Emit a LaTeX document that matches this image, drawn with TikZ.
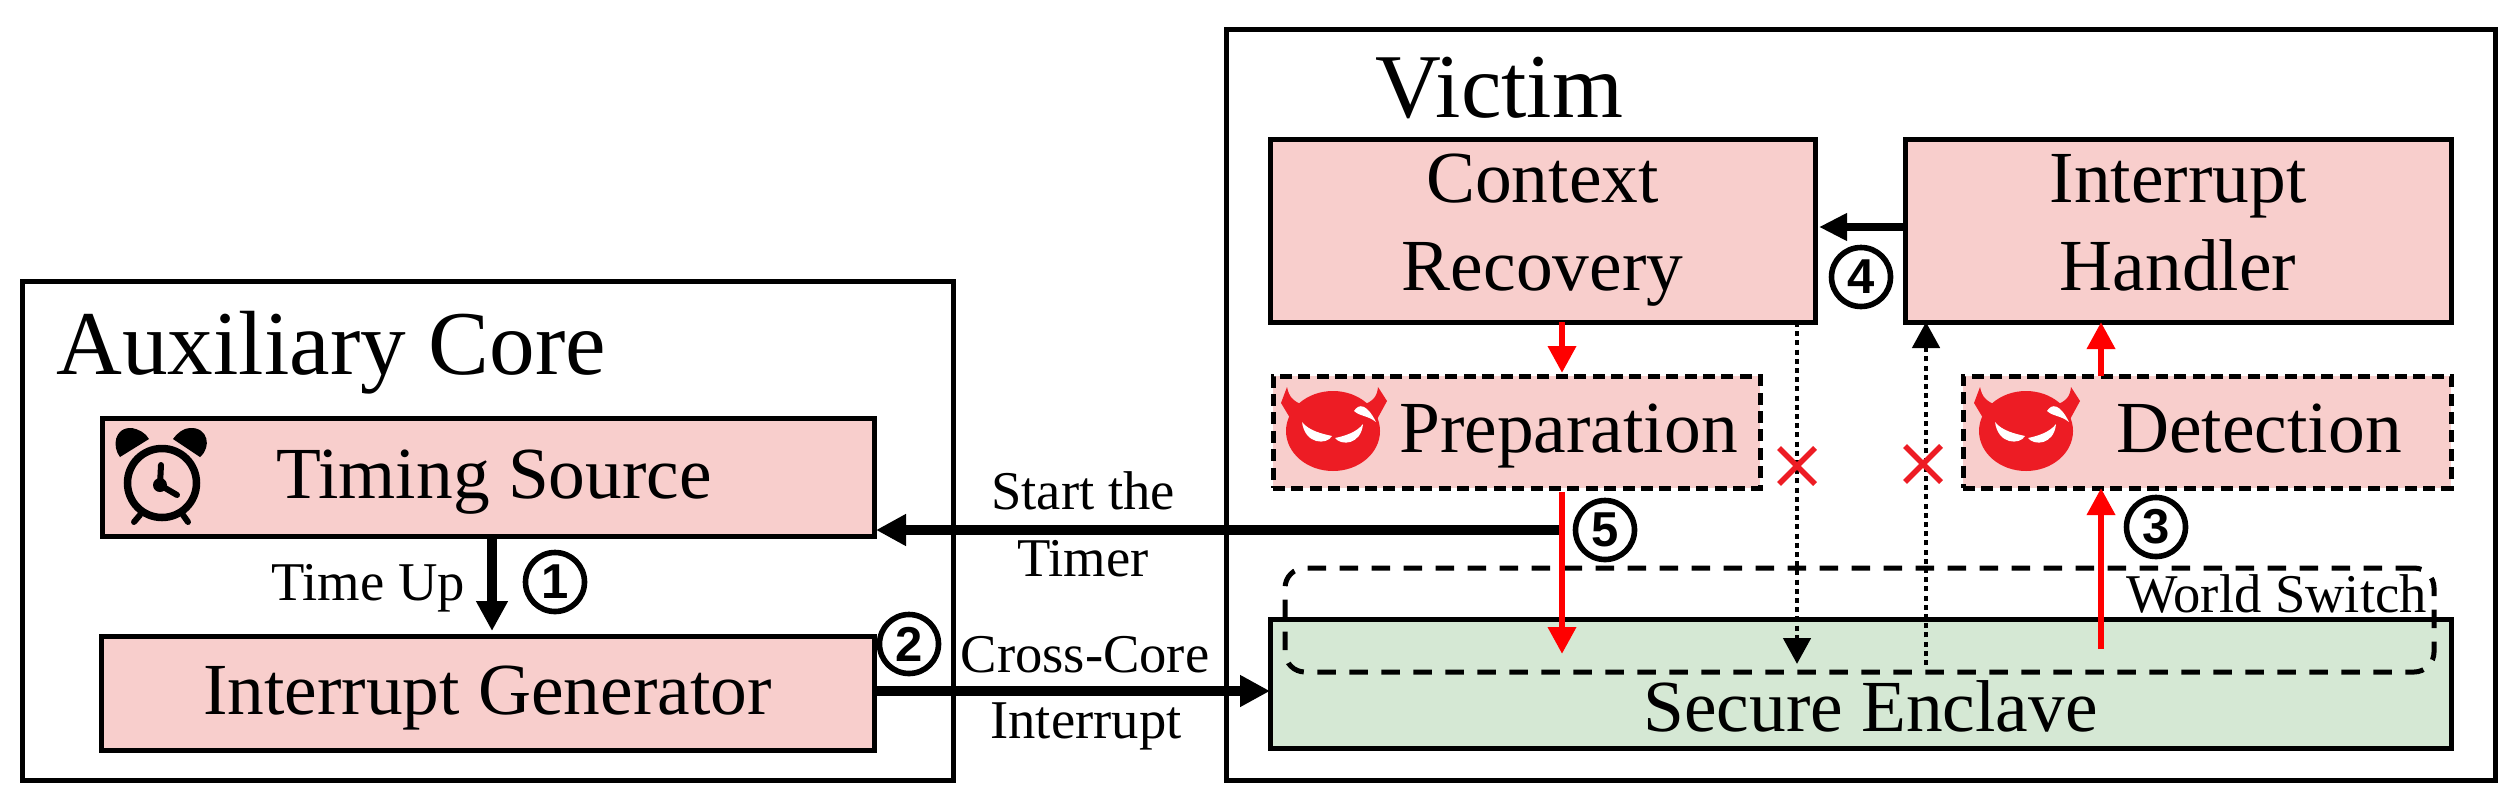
\documentclass[tikz,border=0pt]{standalone}
\usepackage{fontspec}
\setmainfont{Liberation Serif}
\setsansfont{Liberation Sans}
\usetikzlibrary{arrows.meta,calc}
\definecolor{pinkbox}{HTML}{F8CECC}
\definecolor{greenbox}{HTML}{D5E8D4}
\definecolor{devil}{HTML}{ED1C24}
\definecolor{redline}{HTML}{FF0000}
\newcommand{\fs}[1]{\fontsize{#1}{#1}\selectfont}
\tikzset{
  x=0.5pt,y=-0.5pt,
  frame/.style={draw=black,line width=2.5pt,fill=white,inner sep=0pt,outer sep=0pt},
  boxbase/.style={draw=black,line width=2.5pt,fill=pinkbox,inner sep=0pt,outer sep=0pt,font=\fs{36.7},align=center},
  evilbox/.style={boxbase,dash pattern=on 6pt off 3.2pt,line width=2.5pt,text height=29pt,text depth=9pt},
  bigtext/.style={font=\fs{45.6},anchor=base west,inner sep=0pt},
  smalltext/.style={font=\fs{27.3},anchor=base,inner sep=0pt,align=center},
  thickarrow/.style={line width=5pt,-{Triangle[length=15pt,width=15pt]}},
  midarrow/.style={line width=3.6pt,-{Triangle[length=14pt,width=13pt]}},
  redarrow/.style={draw=redline,line width=3.3pt,-{Triangle[length=13.5pt,width=13.5pt]}},
  dotarrow/.style={line width=2.4pt,dash pattern=on 2.5pt off 2.1pt,-{Triangle[length=13pt,width=13.5pt]}},
  stepmark/.style={circle,draw=black,line width=2.8pt,fill=white,minimum size=29.5pt,inner sep=0pt,font=\fs{24.5}\sffamily\bfseries},
  crossmark/.style={draw=devil,line width=2.7pt},
}
\newcommand{\devilicon}[2]{%
  \begin{scope}[shift={(#1,#2)}]
    \fill[devil] (-52,-28) -- (-46,-44) .. controls (-44,-34) and (-40,-30) .. (-30,-26) -- (-30,-5) -- (-40,-8) -- cycle;
    \fill[devil] (54,-30) -- (45,-44) .. controls (44,-34) and (40,-30) .. (30,-26) -- (30,-5) -- (42,-8) -- cycle;
    \fill[devil] (0,0) ellipse [x radius=23.5pt,y radius=20pt];
    \fill[white] (-31,-9) .. controls (-24,0) and (-10,3) .. (-1,5) .. controls (-6,14) and (-28,14) .. cycle;
    \fill[white] (30,-7) .. controls (24,1) and (12,5) .. (2,7) .. controls (8,15) and (28,14) .. cycle;
    \fill[white] (21,-20) .. controls (26,-28) and (34,-27) .. (43,-9) .. controls (34,-16) and (28,-14) .. cycle;
  \end{scope}}
\newcommand{\clockicon}[2]{%
  \begin{scope}[shift={(#1,#2)}]
    \draw[line width=3.75pt] (0,0) circle [radius=17.25pt];
    \draw[line width=3pt,line cap=round] (-1,-18) -- (-2,2) -- (15,12);
    \fill[black] (-2,2) circle [radius=3.5pt];
    \fill[black] (-42,-26) .. controls (-50,-36) and (-48,-56) .. (-30,-55) .. controls (-24,-54) and (-16,-50) .. (-13,-44) -- cycle;
    \fill[black] (11,-44) .. controls (15,-50) and (22,-55) .. (28,-55) .. controls (46,-56) and (50,-36) .. (38,-26) -- cycle;
    \draw[line width=3pt,line cap=round] (-22,32) -- (-28,39);
    \draw[line width=3pt,line cap=round] (21,32) -- (26,39);
  \end{scope}}
\begin{document}
\begin{tikzpicture}
\useasboundingbox (0,0) rectangle (2498,793);
\fill[white] (0,0) rectangle (2498,793);
% outer frames
\node[frame,minimum width=465.5pt,minimum height=249.5pt] (aux) at (487.5,530.5) {};
\node[frame,minimum width=634.5pt,minimum height=375.5pt] (vic) at (1860.5,404.5) {};
\node[bigtext] (auxt) at (56,374) {Auxiliary Core};
\node[bigtext] (vict) at (1375,117) {Victim};
% boxes
\node[boxbase,minimum width=386pt,minimum height=59pt,text height=29pt,text depth=8pt] (tim) at (488,477) {\hspace*{6pt}Timing Source};
\node[boxbase,minimum width=386.5pt,minimum height=57pt,text height=29pt,text depth=8pt] (gen) at (487.5,693) {Interrupt Generator};
\node[boxbase,minimum width=272.5pt,minimum height=91.5pt] (cr) at (1542.5,230.5) {Context\\[7.3pt]Recovery};
\node[boxbase,minimum width=273pt,minimum height=91.5pt] (ih) at (2178,230.5) {\vphantom{C}Interrupt\\[7.3pt]\vphantom{y}Handler};
\node[evilbox,minimum width=243.5pt,minimum height=56pt] (prep) at (1516.5,432) {\hspace*{52pt}Preparation};
\node[evilbox,minimum width=244pt,minimum height=56pt] (det) at (2207,432) {\hspace*{52pt}Detection};
\node[boxbase,fill=greenbox,minimum width=590.5pt,minimum height=64.5pt,text height=56pt,text depth=8pt] (sec) at (1860.5,683.5) {\hspace*{10pt}Secure Enclave};
% world switch
\node[draw=black,line width=2.5pt,dash pattern=on 9.25pt off 6.75pt,rounded corners=10pt,inner sep=0pt,outer sep=0pt,minimum width=574.5pt,minimum height=52pt] (ws) at (1859.5,620) {};
\node[smalltext,anchor=base west] (wst) at (2126,612) {World Switch};
% icons
\clockicon{162}{483}
\devilicon{1333}{431}
\devilicon{2026}{431}
% guide coordinates
\coordinate (xa) at (1562,0);
\coordinate (xb) at (2101,0);
\coordinate (xc) at (1797,0);
\coordinate (xd) at (1926,0);
\coordinate (xe) at (492,0);
\coordinate (yt) at (0,530);
\coordinate (yg) at (0,691);
\coordinate (yh) at (0,227);
% black connectors
\draw[thickarrow] (tim.south -| xe) -- ($(gen.north -| xe)+(0,-5)$);
\draw[thickarrow] (yt -| xa) -- ($(tim.east |- yt)+(2,0)$);
\draw[thickarrow] (gen.east |- yg) -- (sec.west |- yg);
\draw[midarrow] (ih.west |- yh) -- ($(cr.east |- yh)+(4,0)$);
\coordinate (dotend) at (1797,664);
\coordinate (dotstart) at (1926,665);
\draw[dotarrow] (cr.south -| xc) -- (dotend);
\draw[dotarrow] (dotstart) -- (ih.south -| xd);
% red connectors
\coordinate (r5) at (1562,654);
\coordinate (r3) at (2101,649);
\draw[redarrow] (cr.south -| xa) -- ($(prep.north -| xa)+(0,-3)$);
\draw[redarrow] ($(prep.south -| xa)+(0,4)$) -- (r5);
\draw[redarrow] (r3) -- (det.south -| xb);
\draw[redarrow] (det.north -| xb) -- (ih.south -| xb);
% crosses
\draw[crossmark] (1779,448) -- (1815,484) (1815,448) -- (1779,484);
\draw[crossmark] (1905,446) -- (1941,482) (1941,446) -- (1905,482);
% step marks
\node[stepmark] (s1) at (555,582) {1};
\node[stepmark] (s2) at (909,644) {2};
\node[stepmark] (s3) at (2156,527) {3};
\node[stepmark] (s4) at (1861,277) {4};
\node[stepmark] (s5) at (1605,530) {5};
% small labels
\node[smalltext] (lt) at (368,600) {Time Up};
\node[smalltext] (l1) at (1083,509) {Start the};
\node[smalltext] (l2) at (1083,576) {Timer};
\node[smalltext] (l3) at (1085,672) {Cross-Core};
\node[smalltext] (l4) at (1086,738) {Interrupt};
\end{tikzpicture}
\end{document}
